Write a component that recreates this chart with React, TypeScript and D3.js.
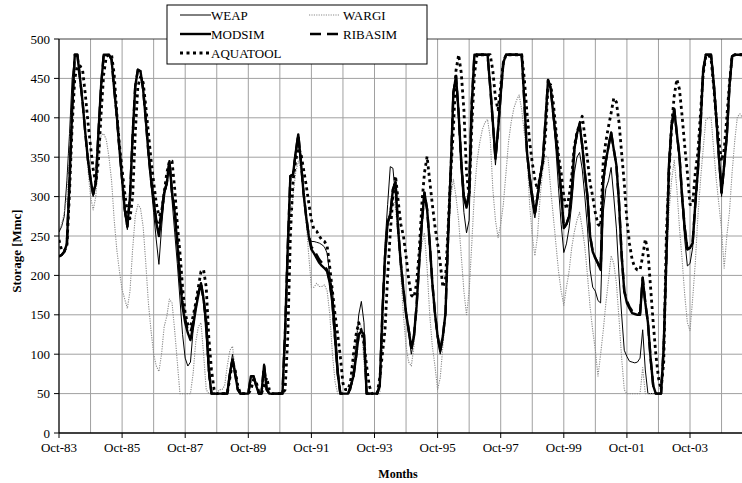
import React from 'react';
import * as d3 from 'd3';

// monthly storage [Mmc], Oct-83 .. Jun-05 (one row = one water year Oct..Sep)
const tickLabels = ['Oct-83', 'Oct-85', 'Oct-87', 'Oct-89', 'Oct-91', 'Oct-93', 'Oct-95', 'Oct-97', 'Oct-99', 'Oct-01', 'Oct-03'];
const yTicks = [0, 50, 100, 150, 200, 250, 300, 350, 400, 450, 500];

const WEAP = [
  255, 262, 275, 320, 380, 450, 478, 478, 450, 419, 381, 347,
  322, 300, 317, 381, 440, 480, 480, 480, 474, 436, 402, 360,
  320, 280, 258, 300, 377, 440, 461, 459, 436, 398, 356, 315,
  280, 245, 214, 260, 300, 315, 340, 295, 255, 215, 170, 125,
  95, 85, 90, 130, 160, 180, 185, 165, 120, 70, 50, 50,
  50, 50, 50, 50, 50, 80, 100, 80, 55, 50, 50, 50,
  50, 72, 72, 60, 50, 50, 88, 55, 50, 50, 50, 50,
  50, 50, 135, 240, 326, 330, 360, 372, 340, 300, 272, 250,
  243, 243, 242, 241, 239, 236, 228, 200, 182, 140, 90, 50,
  50, 50, 50, 55, 75, 110, 150, 167, 140, 50, 50, 50,
  50, 50, 60, 160, 240, 290, 338, 336, 300, 258, 216, 182,
  150, 125, 100, 118, 161, 216, 267, 305, 284, 241, 190, 150,
  120, 100, 120, 152, 250, 334, 430, 450, 400, 330, 280, 254,
  270, 400, 478, 480, 480, 480, 480, 480, 440, 390, 340, 380,
  430, 470, 480, 480, 480, 480, 480, 480, 480, 420, 356, 315,
  290, 273, 295, 320, 345, 395, 445, 435, 400, 360, 310, 265,
  229, 240, 260, 290, 330, 350, 356, 335, 300, 260, 207, 185,
  180, 168, 165, 280, 310, 320, 337, 300, 260, 200, 150, 105,
  97, 91, 90, 89, 90, 95, 131, 80, 50, 50, 50, 50,
  50, 50, 100, 210, 330, 385, 405, 375, 345, 290, 245, 212,
  215, 235, 285, 330, 385, 455, 480, 480, 480, 440, 395, 345,
  300, 335, 375, 440, 478, 480, 480, 480, 480,
];

const WARGI = [
  258, 265, 280, 300, 360, 425, 462, 463, 445, 415, 385, 335,
  300, 283, 300, 347, 377, 380, 372, 350, 320, 270, 232, 205,
  182, 170, 158, 180, 233, 275, 290, 285, 262, 216, 165, 130,
  100, 85, 78, 100, 135, 148, 170, 165, 130, 90, 50, 50,
  50, 50, 50, 75, 115, 135, 140, 100, 55, 50, 50, 50,
  50, 55, 55, 60, 85, 105, 110, 80, 55, 50, 50, 50,
  50, 65, 70, 58, 50, 50, 80, 55, 50, 50, 50, 50,
  50, 55, 100, 200, 270, 300, 330, 345, 335, 305, 270, 225,
  185, 185, 190, 186, 186, 188, 180, 150, 100, 65, 50, 50,
  50, 50, 50, 60, 95, 120, 140, 135, 90, 55, 50, 50,
  50, 50, 50, 110, 240, 270, 285, 300, 285, 250, 200, 150,
  110, 90, 85, 110, 165, 215, 240, 254, 210, 150, 110, 85,
  55, 70, 110, 150, 230, 300, 322, 300, 270, 225, 180, 150,
  180, 240, 305, 345, 368, 385, 394, 398, 375, 310, 270, 248,
  265, 290, 330, 370, 395, 412, 422, 429, 410, 380, 355, 290,
  250, 225, 250, 300, 334, 352, 350, 310, 275, 240, 205, 180,
  162, 185, 205, 235, 255, 270, 280, 260, 236, 200, 160, 130,
  105, 72, 100, 130, 165, 194, 225, 215, 190, 145, 95, 55,
  50, 50, 50, 50, 50, 50, 83, 50, 50, 50, 50, 50,
  50, 50, 130, 215, 280, 321, 346, 310, 260, 220, 175, 140,
  130, 170, 215, 275, 321, 360, 397, 400, 401, 360, 321, 290,
  258, 209, 250, 280, 330, 370, 401, 405, 400,
];

const MODSIM = [
  224, 226, 230, 240, 320, 410, 480, 480, 450, 419, 381, 347,
  322, 303, 317, 381, 440, 480, 480, 480, 474, 436, 402, 360,
  322, 284, 262, 300, 377, 440, 461, 459, 436, 398, 356, 322,
  296, 267, 250, 275, 305, 317, 345, 305, 280, 240, 195, 160,
  140, 127, 118, 135, 157, 175, 190, 170, 140, 80, 50, 50,
  50, 50, 50, 50, 50, 75, 93, 75, 55, 50, 50, 50,
  50, 72, 72, 60, 50, 50, 86, 55, 50, 50, 50, 50,
  50, 50, 130, 235, 326, 328, 355, 379, 345, 305, 275, 250,
  233, 228, 222, 216, 212, 209, 205, 190, 165, 120, 76, 50,
  50, 50, 50, 60, 72, 97, 125, 129, 125, 50, 50, 50,
  50, 50, 60, 152, 224, 267, 277, 309, 318, 258, 216, 182,
  152, 131, 108, 123, 161, 216, 267, 305, 284, 241, 190, 152,
  123, 104, 123, 152, 250, 334, 432, 453, 406, 343, 300, 286,
  305, 419, 480, 480, 480, 480, 480, 480, 440, 395, 348, 385,
  430, 470, 480, 480, 480, 480, 480, 480, 480, 420, 356, 325,
  301, 279, 300, 325, 345, 395, 448, 438, 405, 375, 340, 305,
  260, 265, 275, 305, 360, 380, 392, 365, 330, 300, 250, 230,
  222, 215, 207, 320, 345, 364, 381, 360, 340, 292, 225, 180,
  165, 158, 152, 151, 150, 150, 197, 165, 140, 95, 60, 50,
  50, 50, 110, 220, 340, 390, 411, 380, 351, 300, 260, 233,
  235, 241, 290, 334, 390, 460, 480, 480, 480, 445, 400, 350,
  305, 340, 377, 440, 478, 480, 480, 480, 480,
];

const RIBASIM = [
  224, 226, 230, 240, 320, 410, 480, 480, 450, 419, 381, 347,
  322, 303, 317, 381, 440, 480, 480, 480, 474, 436, 402, 360,
  322, 284, 262, 300, 377, 440, 461, 459, 436, 398, 356, 322,
  296, 270, 262, 280, 305, 317, 345, 305, 282, 245, 200, 165,
  145, 130, 128, 140, 160, 178, 190, 170, 140, 80, 50, 50,
  50, 50, 50, 50, 50, 75, 93, 75, 55, 50, 50, 50,
  50, 72, 72, 60, 50, 50, 86, 55, 50, 50, 50, 50,
  50, 50, 130, 235, 326, 328, 355, 379, 345, 305, 275, 250,
  236, 232, 226, 220, 216, 212, 207, 192, 165, 120, 76, 50,
  50, 50, 50, 60, 72, 97, 125, 129, 125, 50, 50, 50,
  50, 50, 60, 152, 224, 267, 277, 309, 318, 258, 216, 182,
  152, 131, 108, 123, 161, 216, 267, 305, 284, 241, 190, 152,
  123, 104, 123, 152, 250, 334, 432, 453, 406, 343, 300, 286,
  305, 419, 480, 480, 480, 480, 480, 480, 440, 395, 348, 385,
  430, 470, 480, 480, 480, 480, 480, 480, 480, 420, 356, 325,
  301, 279, 300, 325, 345, 395, 448, 438, 405, 375, 340, 305,
  260, 265, 275, 305, 360, 380, 392, 365, 330, 300, 250, 230,
  222, 215, 207, 320, 345, 364, 381, 360, 340, 292, 225, 180,
  168, 160, 155, 153, 152, 152, 197, 165, 140, 95, 60, 50,
  50, 50, 110, 220, 340, 390, 411, 380, 351, 300, 260, 233,
  235, 241, 290, 334, 390, 460, 480, 480, 480, 445, 400, 350,
  305, 340, 377, 440, 478, 480, 480, 480, 480,
];

const AQUATOOL = [
  245, 232, 231, 237, 305, 390, 450, 466, 466, 460, 430, 395,
  364, 335, 317, 345, 405, 455, 478, 480, 480, 455, 405, 365,
  334, 305, 280, 272, 300, 380, 440, 452, 445, 415, 381, 347,
  318, 292, 275, 280, 305, 330, 345, 345, 310, 265, 229, 185,
  152, 138, 135, 148, 165, 185, 205, 207, 185, 120, 80, 55,
  50, 50, 50, 50, 50, 70, 90, 80, 60, 50, 50, 50,
  50, 55, 68, 65, 52, 50, 60, 70, 55, 50, 50, 50,
  50, 50, 55, 120, 250, 320, 345, 362, 355, 335, 315, 292,
  270, 258, 256, 250, 245, 243, 237, 210, 180, 150, 125, 97,
  63, 55, 55, 68, 100, 125, 140, 130, 114, 85, 60, 50,
  50, 50, 70, 100, 131, 199, 254, 300, 326, 295, 265, 250,
  225, 195, 175, 172, 190, 230, 290, 330, 351, 320, 290, 262,
  240, 216, 185, 195, 260, 330, 385, 460, 480, 457, 410, 330,
  300, 390, 455, 480, 480, 480, 480, 480, 480, 460, 425, 410,
  440, 470, 480, 480, 480, 480, 480, 480, 480, 449, 406, 370,
  343, 322, 309, 325, 343, 377, 440, 442, 419, 385, 351, 330,
  300, 284, 300, 326, 364, 381, 392, 402, 377, 347, 317, 300,
  279, 265, 262, 345, 370, 389, 406, 425, 420, 394, 355, 317,
  270, 240, 220, 210, 207, 207, 224, 246, 230, 185, 140, 100,
  70, 55, 90, 250, 330, 390, 428, 449, 436, 402, 364, 330,
  290, 290, 330, 356, 406, 455, 478, 480, 475, 440, 400, 370,
  345, 360, 400, 444, 478, 480, 480, 480, 480,
];

// drawing order as in the workbook: later series on top
const series = [
  { name: 'WEAP', values: WEAP, stroke: '#000', width: 1, dash: undefined as string | undefined },
  { name: 'WARGI', values: WARGI, stroke: '#8a8a8a', width: 1.1, dash: '1.2,1.2' },
  { name: 'MODSIM', values: MODSIM, stroke: '#000', width: 2.4, dash: undefined },
  { name: 'RIBASIM', values: RIBASIM, stroke: '#000', width: 2.4, dash: '11,6' },
  { name: 'AQUATOOL', values: AQUATOOL, stroke: '#000', width: 2.8, dash: '3,3.5' },
];

const FONT = '"Liberation Serif", "Times New Roman", serif';

const App = () => {
  const width = 742;
  const height = 483;
  const left = 59;
  const top = 39;
  const bottom = 433;
  const lastMonth = MODSIM.length - 1;

  const x = d3.scaleLinear().domain([0, lastMonth]).range([left, left + lastMonth * 2.6292]);
  const y = d3.scaleLinear().domain([0, 500]).range([bottom, top]);

  const line = d3
    .line<number>()
    .x((_, i) => x(i))
    .y((d) => y(d));

  const gridMonths = d3.range(12, lastMonth + 1, 12);
  const labelMonths = tickLabels.map((_, i) => i * 24);
  const byName = (n: string) => series.find((s) => s.name === n)!;

  // legend rows: [name, sample x0, text x, row y]
  const legendItems: [string, number, number, number][] = [
    ['WEAP', 180, 211, 15],
    ['WARGI', 309, 343, 15],
    ['MODSIM', 180, 211, 34],
    ['RIBASIM', 310, 343, 34],
    ['AQUATOOL', 180, 211, 53],
  ];

  return (
    <div style={{ position: 'absolute', left: 0, top: 0 }}>
      <svg width={width} height={height} style={{ display: 'block', background: '#fff' }}>
        <defs>
          <clipPath id="plot">
            <rect x={left} y={top - 4} width={width - left} height={bottom - top + 4} />
          </clipPath>
        </defs>

        {/* gridlines */}
        {yTicks.filter((t) => t > 0 && t < 500).map((t) => (
          <line key={'h' + t} x1={left} x2={width} y1={y(t)} y2={y(t)} stroke="#a0a0a0" strokeWidth={1} />
        ))}
        {gridMonths.map((m) => (
          <line key={'v' + m} x1={x(m)} x2={x(m)} y1={top} y2={bottom} stroke="#a0a0a0" strokeWidth={1} />
        ))}
        <line x1={left} x2={width} y1={top} y2={top} stroke="#404040" strokeWidth={1} />

        {/* series */}
        <g clipPath="url(#plot)" fill="none" strokeLinejoin="round">
          {series.map((s) => (
            <path key={s.name} d={line(s.values) || ''} stroke={s.stroke} strokeWidth={s.width} strokeDasharray={s.dash} />
          ))}
        </g>

        {/* axes */}
        <line x1={left} x2={left} y1={top} y2={bottom} stroke="#000" strokeWidth={1.3} />
        <line x1={left} x2={width} y1={bottom} y2={bottom} stroke="#000" strokeWidth={1.3} />
        {yTicks.map((t) => (
          <g key={'yt' + t}>
            <line x1={left - 5} x2={left} y1={y(t)} y2={y(t)} stroke="#000" />
            <text x={left - 9} y={y(t)} dy="0.35em" textAnchor="end" fontFamily={FONT} fontSize={13}>
              {t}
            </text>
          </g>
        ))}
        {labelMonths.map((m, i) => (
          <g key={'xt' + m}>
            <line x1={x(m)} x2={x(m)} y1={bottom} y2={bottom + 5} stroke="#000" />
            <text x={x(m)} y={452} textAnchor="middle" fontFamily={FONT} fontSize={13}>
              {tickLabels[i]}
            </text>
          </g>
        ))}

        <text x={398} y={478} textAnchor="middle" fontFamily={FONT} fontSize={12} fontWeight="bold">
          Months
        </text>
        <text
          transform="translate(21,251) rotate(-90)"
          textAnchor="middle"
          fontFamily={FONT}
          fontSize={13}
          fontWeight="bold"
        >
          Storage [Mmc]
        </text>

        {/* legend */}
        <rect x={167} y={5} width={260} height={59} fill="#fff" stroke="#000" strokeWidth={1} />
        {legendItems.map(([name, sx, tx, ly]) => {
          const s = byName(name);
          return (
            <g key={'lg' + name}>
              <line x1={sx} x2={sx + 31} y1={ly} y2={ly} stroke={s.stroke} strokeWidth={s.width} strokeDasharray={s.dash} />
              <text x={tx} y={ly} dy="0.35em" fontFamily={FONT} fontSize={13}>
                {name}
              </text>
            </g>
          );
        })}
      </svg>
    </div>
  );
};

export default App;
